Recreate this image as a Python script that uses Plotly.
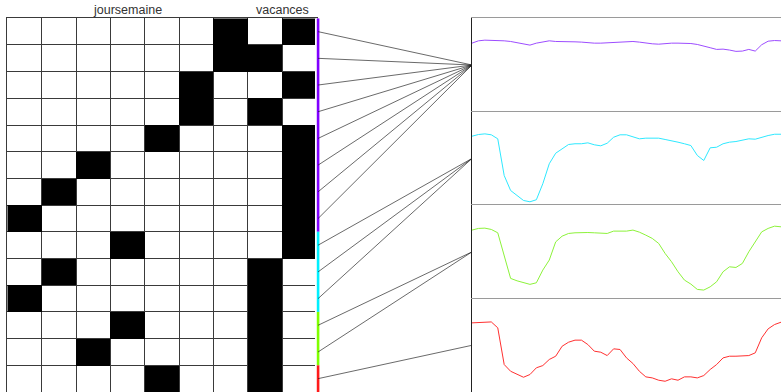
import plotly.graph_objects as go

# ---- encoding grid: one row per profile, one-hot day of week + holiday flag ----
day_groups = ["joursemaine", "vacances"]
n_day_cols = 7
n_vac_cols = 2
# column index (0-6) of the black day cell for each row
day_index = [6, 6, 5, 5, 4, 2, 1, 0, 3, 1, 0, 3, 2, 4]
# column index (0-1) of the black holiday cell for each row
vac_index = [1, 0, 1, 0, 1, 1, 1, 1, 1, 0, 0, 0, 0, 0]
# cluster each row belongs to
row_cluster = [0, 0, 0, 0, 0, 0, 0, 0, 1, 1, 1, 2, 2, 3]

cluster_colors = ["#8000ff", "#00f0ff", "#80ff00", "#ff1a1a"]
line_colors = ["#9d4dff", "#2ee8ff", "#8cf23a", "#ff3030"]

# ---- cluster profiles over the day (hours) ----
hours = [h * 0.5 for h in range(49)]
profile_0 = [0.734, 0.759, 0.766, 0.766, 0.763, 0.759, 0.752, 0.738, 0.723, 0.713,
             0.734, 0.749, 0.759, 0.752, 0.748, 0.748, 0.748, 0.745, 0.738, 0.734,
             0.734, 0.738, 0.741, 0.748, 0.755, 0.752, 0.745, 0.734, 0.727, 0.723,
             0.730, 0.734, 0.734, 0.734, 0.730, 0.720, 0.699, 0.685, 0.667, 0.670,
             0.660, 0.646, 0.649, 0.667, 0.649, 0.717, 0.755, 0.762, 0.759]
profile_1 = [0.738, 0.756, 0.763, 0.753, 0.710, 0.317, 0.157, 0.104, 0.050, 0.036,
             0.058, 0.229, 0.443, 0.556, 0.603, 0.649, 0.657, 0.657, 0.667, 0.646,
             0.635, 0.663, 0.727, 0.753, 0.753, 0.735, 0.710, 0.717, 0.717, 0.717,
             0.703, 0.692, 0.674, 0.657, 0.638, 0.532, 0.478, 0.614, 0.620, 0.657,
             0.674, 0.681, 0.692, 0.710, 0.706, 0.727, 0.745, 0.759, 0.759]
profile_2 = [0.733, 0.751, 0.754, 0.740, 0.704, 0.447, 0.216, 0.190, 0.169, 0.152,
             0.169, 0.305, 0.412, 0.607, 0.668, 0.697, 0.704, 0.707, 0.707, 0.704,
             0.704, 0.697, 0.722, 0.722, 0.722, 0.733, 0.711, 0.679, 0.644, 0.590,
             0.483, 0.394, 0.287, 0.198, 0.155, 0.098, 0.091, 0.126, 0.180, 0.287,
             0.340, 0.333, 0.376, 0.501, 0.607, 0.714, 0.751, 0.775, 0.768]
profile_3 = [0.740, 0.743, 0.747, 0.750, 0.687, 0.294, 0.222, 0.187, 0.158, 0.187,
             0.259, 0.283, 0.348, 0.383, 0.490, 0.533, 0.555, 0.555, 0.508, 0.437,
             0.426, 0.390, 0.462, 0.455, 0.365, 0.305, 0.222, 0.162, 0.151, 0.126,
             0.115, 0.141, 0.126, 0.162, 0.162, 0.151, 0.176, 0.241, 0.294, 0.365,
             0.383, 0.383, 0.383, 0.390, 0.419, 0.580, 0.676, 0.722, 0.747]
profiles = [profile_0, profile_1, profile_2, profile_3]

W, H = 781, 392
n_rows = len(day_index)
n_cols = n_day_cols + n_vac_cols
grid_left, grid_right, grid_top = 7.3, 316.7, 18.3
panel_left = 472.0
link_left = 315.0

grid_dom_y = [0.0, 1 - grid_top / H]
row_range = [n_rows - 0.5, -0.5]

fig = go.Figure()

# one-hot cells (blank cells left empty so the grid lines show through)
z = [[None] * n_cols for _ in range(n_rows)]
for r in range(n_rows):
    z[r][day_index[r]] = 1
    z[r][n_day_cols + vac_index[r]] = 1
fig.add_trace(go.Heatmap(
    z=z, x=list(range(n_cols)), y=list(range(n_rows)),
    colorscale=[[0, "black"], [1, "black"]], zmin=0, zmax=1,
    showscale=False, hoverinfo="skip", xaxis="x", yaxis="y"))

# cluster colour strip and links from each row to its cluster panel
n_clusters = len(profiles)
rows_per_panel = n_rows / n_clusters
for c in range(n_clusters):
    members = [r for r in range(n_rows) if row_cluster[r] == c]
    fig.add_trace(go.Scatter(
        x=[0, 0], y=[min(members) - 0.5, max(members) + 0.5],
        mode="lines", line=dict(color=cluster_colors[c], width=2.6),
        hoverinfo="skip", showlegend=False, xaxis="x2", yaxis="y2"))
for r in range(n_rows):
    c = row_cluster[r]
    target = (c + 0.5) * rows_per_panel - 0.5
    fig.add_trace(go.Scatter(
        x=[0, 1], y=[r, target], mode="lines",
        line=dict(color="rgba(20,20,20,0.8)", width=0.8),
        hoverinfo="skip", showlegend=False, xaxis="x2", yaxis="y2"))

# cluster profile panels
panel_h = (H - grid_top) / n_clusters
for c in range(n_clusters):
    ax = c + 3
    fig.add_trace(go.Scatter(
        x=hours, y=profiles[c], mode="lines",
        line=dict(color=line_colors[c], width=1),
        hoverinfo="skip", showlegend=False,
        xaxis=f"x{ax}", yaxis=f"y{ax}"))
    top_px = grid_top + c * panel_h
    bot_px = top_px + panel_h
    fig.update_layout(**{
        f"xaxis{ax}": dict(domain=[panel_left / W, 1], range=[0, 24], anchor=f"y{ax}",
                           side="top", showline=True, linecolor="#9a9a9a", linewidth=1,
                           showgrid=False, zeroline=False, showticklabels=False,
                           ticks=""),
        f"yaxis{ax}": dict(domain=[max(0.0, 1 - bot_px / H), 1 - top_px / H],
                           range=[0, 1], anchor=f"x{ax}",
                           showline=True, linecolor="#222222", linewidth=1,
                           showgrid=False, zeroline=False, showticklabels=False,
                           ticks=""),
    })

# group headers above the grid
group_sizes = [n_day_cols, n_vac_cols]
start = 0
for name, size in zip(day_groups, group_sizes):
    fig.add_annotation(x=start + (size - 1) / 2, y=-0.5, xref="x", yref="y",
                       text=name, showarrow=False, yanchor="bottom", yshift=-1,
                       font=dict(family="Liberation Sans, Arial", size=12.5,
                                 color="#333333"))
    start += size

boundaries_x = [i - 0.5 for i in range(n_cols + 1)]
boundaries_y = [i - 0.5 for i in range(n_rows + 1)]

fig.update_layout(
    width=W, height=H,
    margin=dict(l=0, r=0, t=0, b=0),
    paper_bgcolor="white", plot_bgcolor="white",
    showlegend=False,
    xaxis=dict(domain=[grid_left / W, grid_right / W], range=[-0.5, n_cols - 0.5],
               anchor="y", tickvals=boundaries_x, showgrid=True, gridcolor="#3a3a3a",
               gridwidth=1, showline=True, mirror=True, linecolor="#3a3a3a",
               zeroline=False, showticklabels=False, ticks=""),
    yaxis=dict(domain=grid_dom_y, range=row_range, anchor="x",
               tickvals=boundaries_y, showgrid=True, gridcolor="#3a3a3a",
               gridwidth=1, showline=True, mirror=True, linecolor="#3a3a3a",
               zeroline=False, showticklabels=False, ticks=""),
    xaxis2=dict(domain=[link_left / W, panel_left / W], range=[-0.02, 1], anchor="y2",
                visible=False),
    yaxis2=dict(domain=grid_dom_y, range=row_range, anchor="x2", visible=False),
)

fig.write_html("out.html")
